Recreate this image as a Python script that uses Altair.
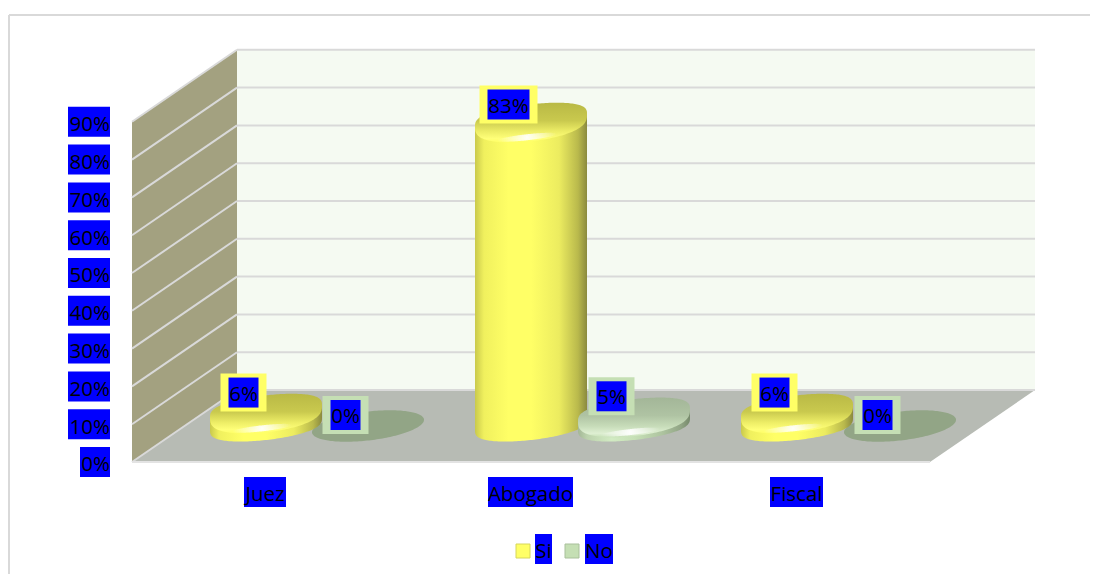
import altair as alt
import numpy as np
import pandas as pd

categories = ["Juez", "Abogado", "Fiscal"]
si_values = [6, 83, 6]
no_values = [0, 5, 0]
tick_values = [0, 10, 20, 30, 40, 50, 60, 70, 80, 90]
legend_labels = ["Si", "No"]

W, H = 1082, 566
PX = 3.78            # pixels per percentage point
FONT = "Open Sans"
FS = 20.5

def pct(px):
    return (462 - px) / PX

x_enc = dict(type="quantitative", scale=alt.Scale(domain=[8, 8 + W], range=[0, W], nice=False, zero=False), axis=None)
y_enc = dict(type="quantitative", scale=alt.Scale(domain=[pct(8 + H), pct(8)], range=[H, 0], nice=False, zero=False), axis=None)

def X(f="x"):
    return alt.X(f, **x_enc)
def Y(f="y"):
    return alt.Y(f, **y_enc)

def grad_h(stops):
    return alt.LinearGradient(gradient="linear", x1=0, x2=1, y1=0, y2=0,
                              stops=[alt.GradientStop(color=c, offset=o) for o, c in stops])
def grad_v(stops):
    return alt.LinearGradient(gradient="linear", x1=0, x2=0, y1=0, y2=1,
                              stops=[alt.GradientStop(color=c, offset=o) for o, c in stops])

def area(rows, fill):
    df = pd.DataFrame(rows, columns=["x", "y", "y2"])
    return alt.Chart(df).mark_area(color=fill, opacity=1, interpolate="linear").encode(
        x=X(), y=Y(), y2=alt.Y2("y2"))

def rect(x0, x1, y0, y1, fill, stroke=None):
    df = pd.DataFrame({"x": [x0], "x2": [x1], "y": [y0], "y2": [y1]})
    kw = {"stroke": stroke, "strokeWidth": 1} if stroke else {}
    return alt.Chart(df).mark_rect(color=fill, opacity=1, **kw).encode(
        x=X(), x2=alt.X2("x2"), y=Y(), y2=alt.Y2("y2"))

def line(x0, y0, x1, y1, color="#d9d9d9", w=2):
    df = pd.DataFrame({"x": [x0, x1], "y": [y0, y1]})
    return alt.Chart(df).mark_line(color=color, strokeWidth=w).encode(x=X(), y=Y())

def text(x, y, s, align="center"):
    df = pd.DataFrame({"x": [x], "y": [y], "t": [s]})
    return alt.Chart(df).mark_text(font=FONT, fontSize=FS, color="#000000", align=align,
                                   baseline="alphabetic").encode(x=X(), y=Y(), text="t:N")

layers = []
# chart border
layers.append(line(9, pct(15), 9, pct(8 + H), w=2))
layers.append(line(9, pct(15), 8 + W, pct(15), w=2))

# back wall, left wall and floor
BACK_L, BACK_R, FRONT_L, FRONT_R = 237, 1035, 132, 930
DEPTH = 72 / PX
layers.append(area([[BACK_L, 90 + DEPTH, DEPTH], [BACK_R, 90 + DEPTH, DEPTH]], "#f5faf2"))
layers.append(area([[FRONT_L, 90, 0], [BACK_L, 90 + DEPTH, DEPTH]], "#a3a180"))
layers.append(area([[FRONT_L, 0, 0], [BACK_L, DEPTH, 0], [FRONT_R, DEPTH, 0], [BACK_R, DEPTH, DEPTH]], "#b7bbb4"))
for v in tick_values:
    layers.append(line(BACK_L, v + DEPTH, BACK_R, v + DEPTH))
    layers.append(line(FRONT_L, v, BACK_L, v + DEPTH))
layers.append(line(FRONT_L, 0, FRONT_R, 0, color="#e3e3e3"))

# cylinders
A, B, S = 56, 16, 0.11
BASE = 424
T = np.linspace(0, np.pi, 90)

def arcs(cx, cy, a=A, b=B, extra=0, p=0.7):
    rows = []
    for t in T[::-1]:
        dx = a * np.cos(t)
        k = np.sin(t) ** p
        rows.append([cx + dx, pct(cy - S * dx - b * k), pct(cy - S * dx + (b + extra) * k)])
    return rows

def body(cx, cy_top, p=0.7):
    rows = []
    for t in T[::-1]:
        dx = A * np.cos(t)
        rows.append([cx + dx, pct(cy_top - S * dx), pct(BASE - S * dx + B * np.sin(t) ** p)])
    return rows

YEL = dict(
    body=[(0, "#c9c94c"), (0.08, "#f0f05e"), (0.3, "#ffff66"), (0.5, "#ffff66"),
          (0.75, "#ecec60"), (0.92, "#b9b94c"), (1, "#8a8a3e")],
    cap=[(0, "#b9b945"), (0.45, "#c9c94e"), (0.72, "#eded66"), (0.9, "#ffff78"), (1, "#ffff66")],
)
GRN = dict(
    body=[(0, "#a3b796"), (0.08, "#bcd2ad"), (0.3, "#d2ebc3"), (0.5, "#c6e0b6"),
          (0.75, "#aec4a0"), (0.92, "#91a585"), (1, "#76896b")],
    cap=[(0, "#a3b698"), (0.45, "#afc3a3"), (0.72, "#c7dcb9"), (0.9, "#deefd2"), (1, "#c6e0b6")],
)

def cylinder(cx, v, pal):
    top = BASE - PX * v + 10
    layers.append(area(body(cx, top), grad_h(pal["body"])))
    layers.append(area(arcs(cx, top, extra=5), grad_v(pal["cap"])))
    glow = alt.RadialGradient(gradient="radial", x1=0.5, y1=0.5, x2=0.5, y2=0.5, r1=0, r2=0.5,
                              stops=[alt.GradientStop(color="rgba(255,255,255,0.95)", offset=0),
                                     alt.GradientStop(color="rgba(255,255,255,0)", offset=1)])
    layers.append(area(arcs(cx - 4, top + 17, a=30, b=3, p=1), glow))

SI_X = [266, 531, 797]
NO_X = [368, 634, 900]
# zero-height columns only leave their shadow on the floor
for i in range(3):
    if no_values[i] == 0:
        layers.append(area(arcs(NO_X[i], 426, b=14.5, p=1), "#92a586"))
for i in range(3):
    cylinder(SI_X[i], si_values[i], YEL)
for i in range(3):
    if no_values[i] > 0:
        cylinder(NO_X[i], no_values[i], GRN)

# data labels
def data_label(cx, v, frame):
    lab = f"{v}%"
    half = 21 if len(lab) == 3 else 15
    xc = cx - 22.5
    yc = pct(415) + v * 0.99
    layers.append(rect(xc - half - 8, xc + half + 8, yc - 19 / PX, yc + 19 / PX, frame))
    layers.append(rect(xc - half, xc + half, yc - 15 / PX, yc + 15 / PX, "#0000ff"))
    layers.append(text(xc, yc - 8.2 / PX, lab))

for i in range(3):
    data_label(NO_X[i], no_values[i], "#c5dfb4")
    data_label(SI_X[i], si_values[i], "#ffff66")

# value-axis labels
for v in tick_values:
    lab = f"{v}%"
    w = 42 if v else 30
    layers.append(rect(110 - w, 110, v - 15 / PX, v + 15 / PX, "#0000ff"))
    layers.append(text(110, v - 9.3 / PX, lab, align="right"))

# category labels
CAT_X = [265, 530.5, 796.5]
CAT_W = [42, 85, 53]
for c, xc, w in zip(categories, CAT_X, CAT_W):
    layers.append(rect(xc - w / 2, xc + w / 2, pct(507), pct(477), "#0000ff"))
    layers.append(text(xc, pct(500.5), c))

# legend
LEG = [(516, 535, 17, "#ffff66", "#d6d65c"), (565, 585, 28, "#c5dfb4", "#a9c09b")]
for lab, (sx, bx, bw, fill, edge) in zip(legend_labels, LEG):
    layers.append(rect(sx, sx + 14, pct(558), pct(544), fill, stroke=edge))
    layers.append(rect(bx, bx + bw, pct(564), pct(534), "#0000ff"))
    layers.append(text(bx + bw / 2, pct(557.5), lab))

chart = alt.layer(*layers).properties(width=W, height=H, padding=0,
                                      autosize=alt.AutoSizeParams(type="none")).configure_view(stroke=None)
chart.save("out.html", embed_options={"renderer": "svg", "actions": False})
